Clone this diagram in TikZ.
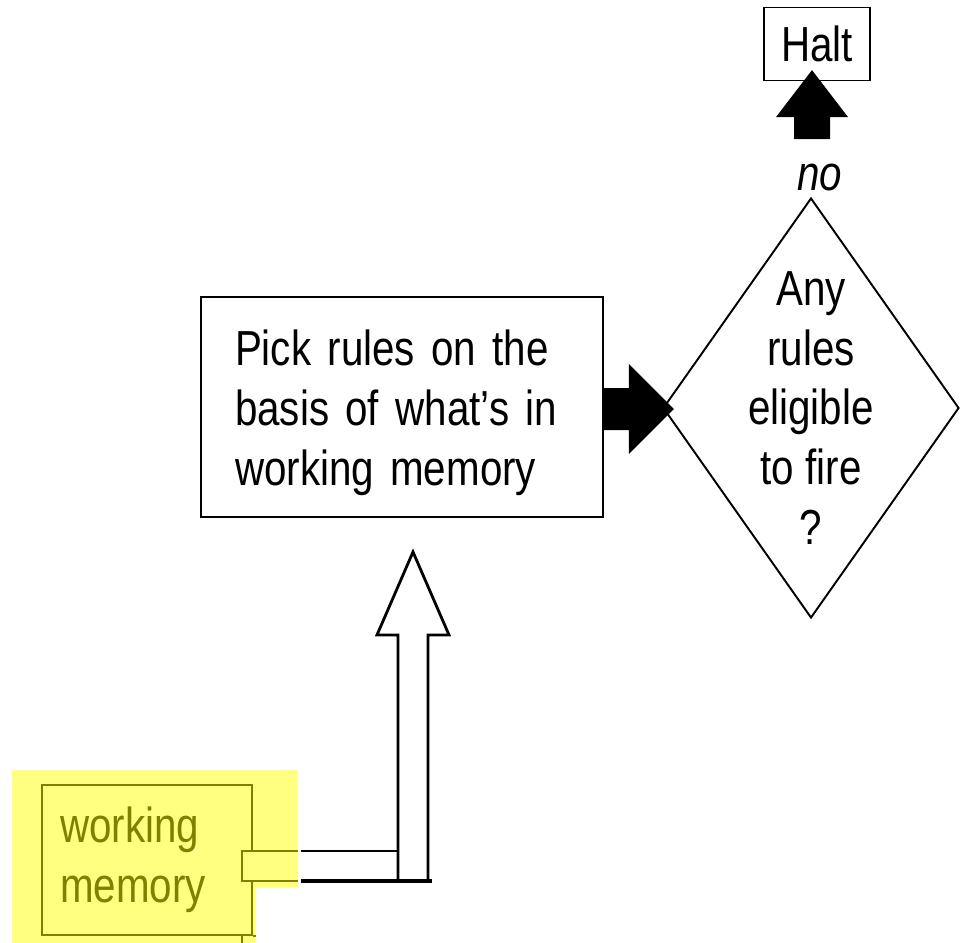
\documentclass[tikz,border=0pt]{standalone}
\usepackage{fontspec}
\setmainfont{Liberation Sans}[FakeStretch=0.82]
\usetikzlibrary{positioning,shapes.geometric,calc}
\definecolor{wmolive}{HTML}{808000}
\definecolor{hiyellow}{HTML}{FFFF80}
\newcommand\wordgap{\spaceskip=6.4pt plus 2pt minus 1pt\relax}
\tikzset{
  bigtext/.style={font=\fontsize{28}{34}\selectfont\wordgap},
  box/.style={draw, line width=1.1pt, bigtext},
  decision/.style={diamond, draw, line width=1.1pt,
    minimum width=5.92cm, minimum height=8.4cm, inner sep=0pt},
  wmbox/.style={draw=wmolive, fill=hiyellow, text=wmolive, line width=1.1pt, bigtext,
    minimum width=4.2cm, minimum height=3cm, text width=3.48cm, inner xsep=0.36cm, align=left},
  wmline/.style={draw=wmolive, line width=1.1pt},
  hollow/.style={draw, line width=1.6pt, line join=miter}
}
\begin{document}
\begin{tikzpicture}[x=0.02cm, y=-0.02cm]
        \useasboundingbox (0,0) rectangle (961,943);
        
        % highlight behind working memory
        \fill[hiyellow] (12,770) -- (297,770) -- (297,887) -- (255,887) -- (255,943) -- (12,943) -- cycle;
        
        % nodes
        \node[box, minimum width=8.04cm, minimum height=4.4cm, text width=6.68cm, inner xsep=0.68cm, text height=27pt, align=left] (pick) at (402,407) {Pick rules on the\\basis of what's in\\working memory};
        \node[decision] (fire) at (811,408) {};
        \node[bigtext, align=center] (firetext) at (fire.center) {Any\\rules\\eligible\\to fire\\?};
        \node[box, minimum width=2.12cm, minimum height=1.46cm] (halt) at (817,44) {Halt};
        \node[bigtext, font=\fontsize{28}{34}\selectfont\itshape] (no) at (820,178) {no};
        \node[wmbox] (wm) at (147,860) {working\\memory};
        
        % tab on working memory
        \fill[hiyellow] ($(wm.east)+(-11,-9)$) rectangle ($(wm.east)+(45,21)$);
        \draw[wmline] ($(wm.east)+(45,-9)$) -| ($(wm.east)+(-11,21)$) -- ++(56,0);
        \draw[wmline] (wm.south east) -- ++(3,0);
        \draw[wmline] ($(wm.south east)+(-11,0)$) -- ++(0,8);
        
        % black arrow: pick -> fire
        \fill ($(pick.east)+(-1,-19)$) -- ++(26,0) -- ++(0,-24) -- ($(pick.east)+(70,2)$) -- ($(pick.east)+(25,47)$) -- ++(0,-24) -- ($(pick.east)+(-1,23)$) -- cycle;
        
        % black arrow: fire -> halt
        \coordinate (nob) at ($(fire.north)+(1,-58)$);
        \fill ($(nob)+(-18,0)$) -- ++(0,-22) -- ++(-18,0) -- ($(nob)+(0,-69)$) -- ($(nob)+(36,-22)$) -- ++(-18,0) -- ++(0,22) -- cycle;
        
        % hollow arrow: wm -> pick
        \coordinate (tip) at ($(pick.south)+(11,34)$);
        \coordinate (stem) at (tip |- {$(wm.east)+(0,21)$});
        \draw[hollow] ($(wm.east)+(48,-9)$) -- ($(stem)+(-15,-30)$);
        \draw[hollow] ($(stem)+(-15,0)$) -- ($(tip)+(-15,83)$) -- ++(-21,0) -- (tip) -- ($(tip)+(36,83)$) -- ++(-21,0) -- ($(stem)+(15,0)$);
        \draw[hollow, line width=2.2pt] ($(wm.east)+(48,21)$) -- ($(stem)+(19,0)$);
    \end{tikzpicture}
\end{document}
